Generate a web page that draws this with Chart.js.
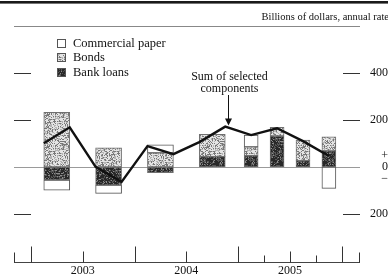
<!DOCTYPE html>
<html><head><meta charset="utf-8">
<script src="https://cdn.jsdelivr.net/npm/chart.js@4"></script>
<style>html,body{margin:0;padding:0;background:#fff;}canvas{display:block;}</style>
</head><body>
<canvas id="c" width="388" height="279"></canvas>
<script>
// ---- Data (billions of dollars, annual rate) ----
const halfYears = ['2003 H1', '2003 H2', '2004 H1', '2004 H2'];
const cpHalf    = [-43, -35, 34, null];
const bondsHalf = [233, 82, 60, 95];
const loansHalf = [-55, -77, -24, 44];

const quarters2005 = ['2005 Q1', '2005 Q2', '2005 Q3', '2005 Q4'];
const cpQuarter    = [50, null, null, -91];
const bondsQuarter = [38, 37, 88, 60];
const loansQuarter = [48, 132, 27, 69];

const sumPeriods = ['2003 Q1','2003 Q2','2003 Q3','2003 Q4','2004 Q1','2004 Q2','2004 Q3','2004 Q4','2005 Q1','2005 Q2','2005 Q3','2005 Q4'];
const sumValues  = [101, 169, 1, -63, 89, 55, 106, 172, 136, 165, 110, 47];

const yearLabels = ['2003', '2004', '2005'];
const yTickValues = [-200, 0, 200, 400];

// period label -> position in quarter units from start of 2003
function periodToX(p) {
  const parts = p.split(' ');
  const base = (parseInt(parts[0], 10) - 2003) * 4;
  if (parts[1][0] === 'H') return base + (parts[1] === 'H1' ? 1 : 3);
  return base + parseInt(parts[1].slice(1), 10) - 0.5;
}
function yearCenter(y) { return (parseInt(y, 10) - 2003) * 4 + 2; }
function pts(periods, vals) { return periods.map((p, i) => ({ x: periodToX(p), y: vals[i] })); }

// ---- stipple patterns (deterministic texture) ----
function hash(x, y, s) {
  let h = (Math.imul(x, 374761393) + Math.imul(y, 668265263) + Math.imul(s, 1442695041)) | 0;
  h = Math.imul(h ^ (h >>> 13), 1274126177);
  h ^= h >>> 16;
  return (h >>> 0) / 4294967296;
}
function makePattern(ctx, levels, seed) {
  const n = 32;
  const cv = document.createElement('canvas');
  cv.width = n; cv.height = n;
  const c = cv.getContext('2d');
  const img = c.createImageData(n, n);
  for (let y = 0; y < n; y++) for (let x = 0; x < n; x++) {
    const v = hash(x, y, seed);
    let g = levels[levels.length - 1][1];
    for (const [t, col] of levels) { if (v < t) { g = col; break; } }
    const k = (y * n + x) * 4;
    img.data[k] = img.data[k + 1] = img.data[k + 2] = g; img.data[k + 3] = 255;
  }
  c.putImageData(img, 0, 0);
  return ctx.createPattern(cv, 'repeat');
}

const canvas = document.getElementById('c');
const ctx0 = canvas.getContext('2d');
const bondsFill = makePattern(ctx0, [[0.25, 120], [0.5, 180], [1.01, 228]], 7);
const loansFill = makePattern(ctx0, [[0.55, 40], [0.85, 85], [1.01, 140]], 13);
const cpFill = '#ffffff';

Chart.defaults.font.family = "'Liberation Serif', 'Times New Roman', serif";
Chart.defaults.color = '#111';

const FONT = (s) => s + "px 'Liberation Serif', 'Times New Roman', serif";

const decor = {
  id: 'decor',
  beforeDatasetsDraw(chart) {
    const { ctx, chartArea: a, scales: { y } } = chart;
    const y0 = Math.round(y.getPixelForValue(0)) + 0.5;
    ctx.save();
    ctx.strokeStyle = '#9a9a9a'; ctx.lineWidth = 1;
    ctx.beginPath(); ctx.moveTo(a.left, y0); ctx.lineTo(a.right, y0); ctx.stroke();
    ctx.restore();
  },
  afterDraw(chart) {
    const { ctx, chartArea: a, scales: { x, y } } = chart;
    ctx.save();
    // top rules
    ctx.fillStyle = '#1a1a1a';
    ctx.fillRect(0, 1, chart.width, 2.6);
    ctx.strokeStyle = '#888'; ctx.lineWidth = 1;
    ctx.beginPath(); ctx.moveTo(a.left, a.top + 0.5); ctx.lineTo(a.right, a.top + 0.5); ctx.stroke();
    // units text
    ctx.fillStyle = '#111';
    ctx.font = FONT(10.5);
    ctx.textAlign = 'right'; ctx.textBaseline = 'middle';
    ctx.fillText('Billions of dollars, annual rate', chart.width + 1, 17);
    // y tick marks, both sides
    ctx.strokeStyle = '#333'; ctx.lineWidth = 1;
    yTickValues.filter(v => v !== 0).forEach(v => {
      const py = Math.round(y.getPixelForValue(v)) + 0.5;
      ctx.beginPath();
      ctx.moveTo(a.left, py); ctx.lineTo(a.left + 17, py);
      ctx.moveTo(a.right - 17, py); ctx.lineTo(a.right, py);
      ctx.stroke();
    });
    // x axis line
    const by = Math.round(a.bottom) + 0.5;
    ctx.strokeStyle = '#444'; ctx.lineWidth = 1.2;
    ctx.beginPath(); ctx.moveTo(a.left, by); ctx.lineTo(a.right, by); ctx.stroke();
    // x tick marks
    ctx.lineWidth = 1; ctx.strokeStyle = '#333';
    const tick = (px, h) => { const xx = Math.round(px) + 0.5; ctx.beginPath(); ctx.moveTo(xx, by); ctx.lineTo(xx, by - h); ctx.stroke(); };
    tick(a.left, 10); tick(a.right - 1, 10);
    yearLabels.forEach(yl => {
      const c = yearCenter(yl);
      tick(x.getPixelForValue(c - 2), 16);
      tick(x.getPixelForValue(c), 11);
    });
    tick(x.getPixelForValue(yearCenter(yearLabels[yearLabels.length - 1]) + 2), 16);
    tick(x.getPixelForValue(yearCenter('2005') - 1), 7);
    tick(x.getPixelForValue(yearCenter('2005') + 1), 7);
    // legend
    const items = [['Commercial paper', cpFill], ['Bonds', bondsFill], ['Bank loans', loansFill]];
    ctx.font = FONT(12.5); ctx.textAlign = 'left'; ctx.textBaseline = 'middle';
    items.forEach((it, i) => {
      const cy = 43 + i * 14.5;
      ctx.fillStyle = it[1];
      ctx.fillRect(57, Math.round(cy - 4.5), 9, 9);
      ctx.strokeStyle = '#555'; ctx.lineWidth = 1;
      ctx.strokeRect(57.5, Math.round(cy - 4.5) + 0.5, 8, 8);
      ctx.fillStyle = '#111';
      ctx.fillText(it[0], 73, cy + 0.5);
    });
    // annotation with arrow to the line
    const meta = chart.getDatasetMeta(0);
    const idx = sumPeriods.indexOf('2004 Q4');
    const p = meta.data[idx];
    const tx = Math.round(p.x) + 3.5, ty = p.y - 1;
    ctx.font = FONT(12); ctx.textAlign = 'center'; ctx.fillStyle = '#111';
    ctx.fillText('Sum of selected', tx + 1, 77);
    ctx.fillText('components', tx + 1, 88.5);
    ctx.strokeStyle = '#111'; ctx.lineWidth = 1;
    ctx.beginPath(); ctx.moveTo(tx, 95); ctx.lineTo(tx, ty - 5); ctx.stroke();
    ctx.beginPath(); ctx.moveTo(tx - 3.5, ty - 7); ctx.lineTo(tx + 3.5, ty - 7); ctx.lineTo(tx, ty); ctx.closePath(); ctx.fill();
    ctx.restore();
  }
};

const barCommon = { grouped: false, borderColor: '#707070', borderWidth: 1, borderSkipped: false };

new Chart(canvas, {
  type: 'bar',
  data: {
    datasets: [
      { type: 'line', label: 'Sum of selected components', data: pts(sumPeriods, sumValues),
        borderColor: '#111', borderWidth: 2.4, pointRadius: 0, tension: 0, fill: false, borderJoinStyle: 'miter' },
      Object.assign({ label: 'Bank loans', data: pts(halfYears, loansHalf), backgroundColor: loansFill, barThickness: 26 }, barCommon),
      Object.assign({ label: 'Bank loans', data: pts(quarters2005, loansQuarter), backgroundColor: loansFill, barThickness: 14 }, barCommon),
      Object.assign({ label: 'Bonds', data: pts(halfYears, bondsHalf), backgroundColor: bondsFill, barThickness: 26 }, barCommon),
      Object.assign({ label: 'Bonds', data: pts(quarters2005, bondsQuarter), backgroundColor: bondsFill, barThickness: 14 }, barCommon),
      Object.assign({ label: 'Commercial paper', data: pts(halfYears, cpHalf), backgroundColor: cpFill, barThickness: 26 }, barCommon, { borderColor: '#555' }),
      Object.assign({ label: 'Commercial paper', data: pts(quarters2005, cpQuarter), backgroundColor: cpFill, barThickness: 14 }, barCommon, { borderColor: '#555' })
    ]
  },
  options: {
    responsive: false,
    animation: false,
    devicePixelRatio: 1,
    layout: { padding: { left: 14, top: 26, right: 0, bottom: 0 } },
    plugins: { legend: { display: false }, tooltip: { enabled: false } },
    scales: {
      x: {
        type: 'linear', min: -0.65, max: 12.7, offset: false,
        afterBuildTicks: s => { s.ticks = yearLabels.map(l => ({ value: yearCenter(l) })); },
        afterFit: s => { s.height = 17; },
        grid: { display: false, drawTicks: false, offset: false },
        border: { display: false },
        ticks: { padding: 2, maxRotation: 0, autoSkip: false, font: { size: 12 }, color: '#111',
          callback: v => yearLabels[Math.round((v - 2) / 4)] }
      },
      y: {
        type: 'linear', position: 'right', stacked: true, min: -404, max: 600,
        afterBuildTicks: s => { s.ticks = yTickValues.map(v => ({ value: v })); },
        afterFit: s => { s.width = 28; },
        grid: { display: false, drawTicks: false },
        border: { display: false },
        ticks: { padding: 10, crossAlign: 'far', color: '#111', font: { size: 12, lineHeight: 0.95 },
          callback: v => v === 0 ? ['+', '0', '\u2212'] : String(Math.abs(v)) }
      }
    }
  },
  plugins: [decor]
});
</script>
</body></html>
